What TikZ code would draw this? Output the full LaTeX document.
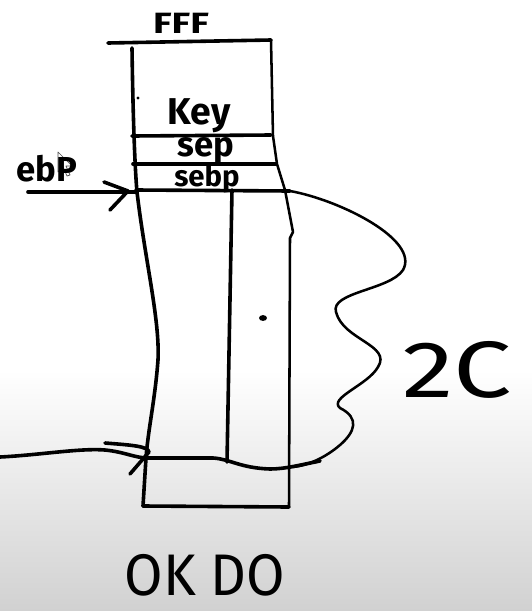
\documentclass[tikz,border=0pt]{standalone}
\usepackage{graphicx}
\usepackage{fontspec}
\setmainfont{Fira Sans}
\begin{document}
\begin{tikzpicture}[x=0.75pt,y=-0.75pt,
  pen/.style={line width=2.7pt,line cap=round,line join=round},
  thinpen/.style={line width=1.9pt,line cap=round,line join=round},
  lbl/.style={inner sep=0pt}]
\useasboundingbox (0,0) rectangle (532,611);
\fill[white] (0,0) rectangle (532,372);
\shade[top color=white,bottom color=black!18] (0,370) rectangle (532,611);

% frame
\draw[pen] (108,43) -- (271,40);
\draw[pen] (132,48) .. controls (133,120) and (135,170) .. (137,192)
  .. controls (145,260) and (160,320) .. (158,360)
  .. controls (155,400) and (148,430) .. (146,458) -- (143,506);
\draw[thinpen] (271,40) -- (273,136) -- (277,164) -- (285,190) -- (293,232) -- (290,238) -- (289,506);
\draw[pen] (143,506) -- (289,507);
\draw[pen] (132,136) -- (271,135);
\draw[pen] (133,164) -- (276,164);
\draw[pen] (136,190) -- (290,191);
\draw[pen] (232,190) -- (227,462);

% brace
\draw[thinpen] (290,191) .. controls (340,200) and (420,240) .. (403,270)
  .. controls (390,290) and (330,292) .. (336,312)
  .. controls (343,340) and (392,345) .. (378,367)
  .. controls (368,385) and (328,398) .. (340,408)
  .. controls (360,418) and (355,432) .. (340,445)
  .. controls (325,458) and (305,467) .. (290,467);

% bottom wavy arrow line
\draw[pen] (0,457) .. controls (40,455) and (80,448) .. (105,450)
  .. controls (125,452) and (135,458) .. (148,458) -- (213,458)
  .. controls (230,459) and (240,468) .. (270,469)
  .. controls (285,469) and (300,465) .. (320,461);
\draw[pen] (105,443) .. controls (130,445) and (148,446) .. (149,452) -- (130,474);

% ebp arrow
\coordinate (ebpstart) at (28,192);
\coordinate (ebpend) at (137,192);
\draw[pen] (ebpstart) -- (ebpend);
\draw[pen] (104,182) -- (128,191) -- (110,210);

% dots
\fill (138,98) circle (1.3pt);
\fill (263,318) ellipse (3pt and 2.2pt);

% cursor
\draw[fill=white,draw=black!70,line width=0.5pt,line join=round]
  (58,152) -- (58,172) -- (63,167) -- (67,176) -- (70,175) -- (66,166) -- (72,166) -- cycle;

% texts
\node[lbl,font=\fontsize{22}{22}\selectfont\bfseries] (fff) at (181,23) {\scalebox{1.3}[1]{FFF}};
\node[lbl,font=\fontsize{28}{28}\selectfont\bfseries] (key) at (199,116) {Key};
\node[lbl,font=\fontsize{26}{26}\selectfont\bfseries] (sep) at (206,151) {sep};
\node[lbl,font=\fontsize{22}{22}\selectfont\bfseries] (sebp) at (207,179) {sebp};
\node[lbl,font=\fontsize{26}{26}\selectfont\bfseries] (ebp) at (47,169) {ebP};
\node[lbl,font=\fontsize{60}{60}\selectfont] (twoc) at (457,370) {\scalebox{1.3}[1]{2C}};
\node[lbl,font=\fontsize{44}{44}\selectfont] (okdo) at (205,575) {\scalebox{0.95}[1]{OK DO}};
\end{tikzpicture}
\end{document}
